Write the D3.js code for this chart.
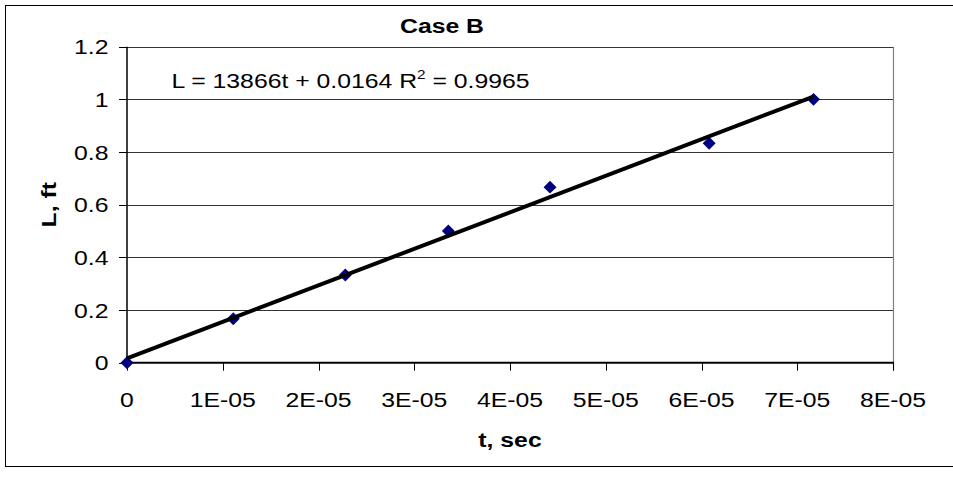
<!DOCTYPE html>
<html>
<head>
<meta charset="utf-8">
<script src="https://cdn.jsdelivr.net/npm/d3@7/dist/d3.min.js"></script>
<style>
  html, body { margin: 0; padding: 0; background: #fff; }
  svg { display: block; }
  text { font-family: "Liberation Sans", Arial, sans-serif; fill: #000; }
</style>
</head>
<body>
<svg id="chart" width="953" height="482"></svg>
<script>
// Measured lengths L (ft) against elapsed time t (sec)
const tValues = [0, 1.11e-5, 2.28e-5, 3.356e-5, 4.418e-5, 6.08e-5, 7.17e-5];
const lValues = [0, 0.1667, 0.3333, 0.5, 0.6667, 0.8333, 1.0];

// Linear trendline reported for the series
const slope = 13866;
const intercept = 0.0164;
const rSquared = "0.9965";

const xTicks = [0, 1e-5, 2e-5, 3e-5, 4e-5, 5e-5, 6e-5, 7e-5, 8e-5];
const xTickLabels = ["0", "1E-05", "2E-05", "3E-05", "4E-05", "5E-05", "6E-05", "7E-05", "8E-05"];
const yTicks = [0, 0.2, 0.4, 0.6, 0.8, 1, 1.2];
const yTickLabels = ["0", "0.2", "0.4", "0.6", "0.8", "1", "1.2"];

const titleText = "Case B";
const xTitle = "t, sec";
const yTitle = "L, ft";

const svg = d3.select("#chart");
const plot = { left: 127, right: 893, top: 46.7, bottom: 362.7 };
const stretch = 1.18;
const fs = 21;

const x = d3.scaleLinear().domain([0, 8e-5]).range([plot.left, plot.right]);
const y = d3.scaleLinear().domain([0, 1.2]).range([plot.bottom, plot.top]);

// outer chart frame
svg.append("rect")
  .attr("x", 5.5).attr("y", 5.5)
  .attr("width", 960).attr("height", 461)
  .attr("fill", "#fff").attr("stroke", "#000").attr("stroke-width", 1);

// helper for horizontally widened text
function label(g, str, px, py, anchor, size, weight) {
  return g.append("text")
    .attr("transform", `translate(${px},${py}) scale(${stretch},1)`)
    .attr("text-anchor", anchor)
    .attr("font-size", size)
    .attr("font-weight", weight || "normal")
    .text(str);
}

// horizontal gridlines
svg.append("g").selectAll("line")
  .data(yTicks.filter(d => d > 0))
  .join("line")
  .attr("x1", plot.left).attr("x2", plot.right)
  .attr("y1", d => Math.round(y(d)) + 0.5).attr("y2", d => Math.round(y(d)) + 0.5)
  .attr("stroke", "#333").attr("stroke-width", 1);

// right edge of plot area
svg.append("line")
  .attr("x1", plot.right + 0.5).attr("x2", plot.right + 0.5)
  .attr("y1", plot.top).attr("y2", plot.bottom + 8)
  .attr("stroke", "#808080").attr("stroke-width", 1.2);

// x-axis ticks
svg.append("g").selectAll("line")
  .data(xTicks)
  .join("line")
  .attr("x1", d => Math.round(x(d)) + 0.5).attr("x2", d => Math.round(x(d)) + 0.5)
  .attr("y1", plot.bottom).attr("y2", plot.bottom + 8)
  .attr("stroke", "#000").attr("stroke-width", 1);

// y-axis ticks
svg.append("g").selectAll("line")
  .data(yTicks)
  .join("line")
  .attr("x1", plot.left - 8).attr("x2", plot.left)
  .attr("y1", d => Math.round(y(d)) + 0.5).attr("y2", d => Math.round(y(d)) + 0.5)
  .attr("stroke", "#000").attr("stroke-width", 1);

// axis lines
svg.append("line")
  .attr("x1", plot.left).attr("x2", plot.right + 1)
  .attr("y1", plot.bottom).attr("y2", plot.bottom)
  .attr("stroke", "#000").attr("stroke-width", 2);
svg.append("line")
  .attr("x1", plot.left).attr("x2", plot.left)
  .attr("y1", plot.top).attr("y2", plot.bottom)
  .attr("stroke", "#000").attr("stroke-width", 1.5);

// tick labels
const xl = svg.append("g");
xTicks.forEach((d, i) => label(xl, xTickLabels[i], x(d), 406.5, "middle", fs));
const yl = svg.append("g");
yTicks.forEach((d, i) => label(yl, yTickLabels[i], 108.5, y(d) + 7.5, "end", fs));

// data markers (navy diamonds)
svg.append("g").selectAll("path")
  .data(tValues.map((t, i) => [t, lValues[i]]))
  .join("path")
  .attr("d", d3.symbol().type(d3.symbolSquare).size(84))
  .attr("transform", d => `translate(${x(d[0])},${y(d[1])}) rotate(45)`)
  .attr("fill", "#000080");

// trendline over the data span
const tMax = d3.max(tValues);
svg.append("line")
  .attr("x1", x(0)).attr("y1", y(intercept))
  .attr("x2", x(tMax)).attr("y2", y(slope * tMax + intercept))
  .attr("stroke", "#000").attr("stroke-width", 4);

// equation label
const eq = svg.append("text")
  .attr("transform", `translate(171.5,87.5) scale(${stretch},1)`)
  .attr("font-size", fs);
eq.append("tspan").text(`L = ${slope}t + ${intercept} R`);
eq.append("tspan").attr("font-size", 13).attr("dy", -9).text("2");
eq.append("tspan").attr("dy", 9).text(` = ${rSquared}`);

// titles
label(svg, titleText, 442, 33, "middle", fs, "bold");
label(svg, xTitle, 510, 447, "middle", fs, "bold");
svg.append("text")
  .attr("transform", `translate(55.5,${(plot.top + plot.bottom) / 2}) rotate(-90) scale(${stretch},1)`)
  .attr("text-anchor", "middle")
  .attr("font-size", fs)
  .attr("font-weight", "bold")
  .text(yTitle);
</script>
</body>
</html>
